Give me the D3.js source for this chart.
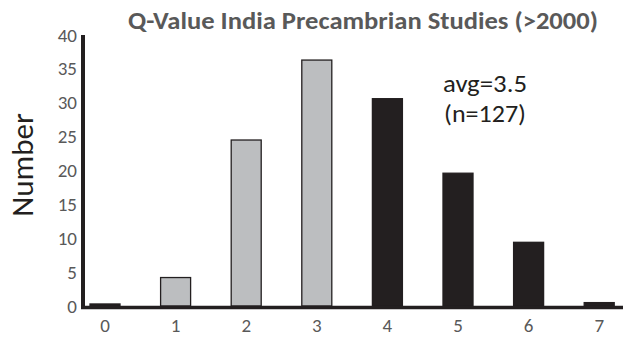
<!DOCTYPE html>
<html>
<head>
<meta charset="utf-8">
<script src="https://cdn.jsdelivr.net/npm/d3@7"></script>
<style>
  body { margin: 0; background: #fff; }
  svg { display: block; }
</style>
</head>
<body>
<div id="chart"></div>
<script>
// data
var categories = ["0", "1", "2", "3", "4", "5", "6", "7"];
var counts = [0.3, 4.2, 24.5, 36.3, 30.6, 19.6, 9.4, 0.5];
var shades = ["dark", "light", "light", "light", "dark", "dark", "dark", "dark"];
var yTicks = [0, 5, 10, 15, 20, 25, 30, 35, 40];
var titleText = "Q-Value India Precambrian Studies (>2000)";
var noteLines = ["avg=3.5", "(n=127)"];

var width = 623, height = 339;
var ink = "#231f20";
var grey = "#bcbec0";
var tickGrey = "#595959";
var font = "Carlito, 'Open Sans', 'Noto Sans', sans-serif";

var svg = d3.select("#chart").append("svg")
    .attr("width", width)
    .attr("height", height);

var x = d3.scaleBand()
    .domain(categories)
    .range([69.7, 634.5])
    .paddingInner(0.575)
    .paddingOuter(0.2875);

var y = d3.scaleLinear()
    .domain([0, 40])
    .range([306, 35]);

// bars
svg.selectAll("rect.bar")
    .data(counts)
    .enter().append("rect")
    .attr("class", "bar")
    .attr("x", function(d, i) { return x(categories[i]); })
    .attr("width", x.bandwidth())
    .attr("y", function(d) { return y(d); })
    .attr("height", function(d) { return y(0) - y(d); })
    .attr("fill", function(d, i) { return shades[i] == "light" ? grey : ink; })
    .attr("stroke", ink)
    .attr("stroke-width", 1.3);

// axis lines (thick, no tick marks)
svg.append("line")
    .attr("x1", 83).attr("x2", 83)
    .attr("y1", y(40)).attr("y2", y(0) + 2)
    .attr("stroke", ink).attr("stroke-width", 4);

svg.append("line")
    .attr("x1", 81).attr("x2", width)
    .attr("y1", y(0) + 1.5).attr("y2", y(0) + 1.5)
    .attr("stroke", ink).attr("stroke-width", 3.5);

// y tick labels
var yAxis = d3.axisLeft(y).tickValues(yTicks).tickSize(0).tickPadding(0);
var gy = svg.append("g")
    .attr("transform", "translate(77,0)")
    .call(yAxis);
gy.select(".domain").remove();
gy.selectAll("text")
    .attr("font-family", font)
    .attr("font-size", 19)
    .attr("fill", tickGrey);

// x tick labels
var xAxis = d3.axisBottom(x).tickSize(0).tickPadding(0);
var gx = svg.append("g")
    .attr("transform", "translate(0,0)")
    .call(xAxis);
gx.select(".domain").remove();
gx.selectAll("text")
    .attr("y", 332)
    .attr("dy", null)
    .attr("font-family", font)
    .attr("font-size", 19)
    .attr("fill", tickGrey);

// title
svg.append("text")
    .attr("x", 128)
    .attr("y", 28.5)
    .attr("textLength", 470)
    .attr("lengthAdjust", "spacingAndGlyphs")
    .attr("font-family", font)
    .attr("font-weight", "bold")
    .attr("font-size", 24)
    .attr("fill", tickGrey)
    .text(titleText);

// y axis title
svg.append("text")
    .attr("transform", "translate(33,165)rotate(-90)")
    .attr("text-anchor", "middle")
    .attr("font-family", font)
    .attr("font-size", 31)
    .attr("fill", ink)
    .text("Number");

// note
var noteWidths = [84, 82];
svg.selectAll("text.note")
    .data(noteLines)
    .enter().append("text")
    .attr("class", "note")
    .attr("x", function(d, i) { return i == 0 ? 443 : 444; })
    .attr("y", function(d, i) { return 92 + i * 30; })
    .attr("textLength", function(d, i) { return noteWidths[i]; })
    .attr("lengthAdjust", "spacingAndGlyphs")
    .attr("font-family", font)
    .attr("font-size", 24)
    .attr("fill", ink)
    .text(function(d) { return d; });
</script>
</body>
</html>
